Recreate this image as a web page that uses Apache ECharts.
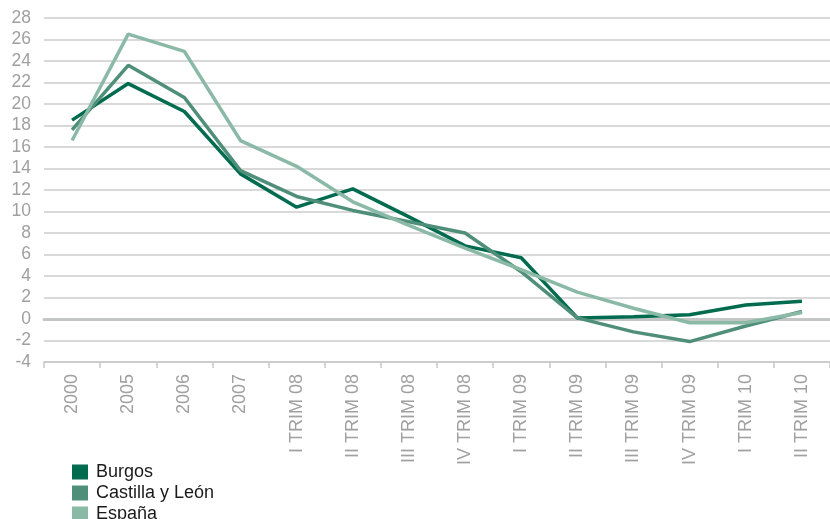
<!DOCTYPE html>
<html>
<head>
<meta charset="utf-8">
<script src="https://cdn.jsdelivr.net/npm/echarts@6/dist/echarts.min.js"></script>
<style>
  html, body { margin: 0; padding: 0; background: #fff; }
  #chart { width: 830px; height: 519px; }
</style>
</head>
<body>
<div id="chart"></div>
<script>
var periodos = ['2000', '2005', '2006', '2007', 'I TRIM 08', 'II TRIM 08', 'III TRIM 08', 'IV TRIM 08',
    'I TRIM 09', 'II TRIM 09', 'III TRIM 09', 'IV TRIM 09', 'I TRIM 10', 'II TRIM 10']
var burgos = [18.5, 21.9, 19.3, 13.5, 10.4, 12.1, 9.5, 6.8, 5.7, 0.1, 0.2, 0.4, 1.3, 1.65]
var castilla = [17.6, 23.6, 20.6, 13.8, 11.4, 10.1, 9.05, 8.0, 4.4, 0.1, -1.2, -2.1, -0.65, 0.7]
var espana = [16.6, 26.5, 24.9, 16.6, 14.2, 10.9, 8.7, 6.6, 4.6, 2.5, 1.0, -0.35, -0.35, 0.6]

var colores = ['#006b4f', '#4f8e78', '#8ab9a6']
var gris = '#a0a0a0'

let myChart = echarts.init(document.getElementById('chart'));

function linea(nombre, datos, color) {
    return {
        name: nombre,
        type: 'line',
        data: datos,
        showSymbol: false,
        symbol: 'none',
        color: color,
        lineStyle: { width: 3.5, color: color },
        z: 3
    }
}

let option = {
    animation: false,
    grid: { left: 44, top: 18, width: 793, height: 344 },
    legend: {
        orient: 'vertical',
        left: 72,
        top: 463,
        height: 90,
        padding: 0,
        icon: 'rect',
        itemWidth: 16,
        itemHeight: 15,
        itemGap: 3,
        textStyle: { fontFamily: 'Liberation Sans', fontSize: 18, color: '#1a1a1a', padding: [0, 0, 0, 3] },
        data: ['Burgos', 'Castilla y León', 'España']
    },
    xAxis: [{
        type: 'category',
        data: periodos,
        boundaryGap: true,
        axisLine: { onZero: false, lineStyle: { color: '#c8c8c8', width: 1.5 } },
        axisTick: { show: true, length: 6, lineStyle: { color: '#c8c8c8', width: 1.5 } },
        axisLabel: {
            rotate: 90,
            margin: 12,
            interval: 0,
            color: gris,
            fontFamily: 'Liberation Sans',
            fontSize: 18
        },
        splitLine: { show: false }
    }, {
        type: 'category',
        data: periodos,
        position: 'bottom',
        axisLine: { onZero: true, lineStyle: { color: '#c3c6c4', width: 3 } },
        axisTick: { show: false },
        axisLabel: { show: false },
        splitLine: { show: false }
    }],
    yAxis: {
        type: 'value',
        min: -4,
        max: 28,
        interval: 2,
        axisLine: { show: false },
        axisTick: { show: false },
        axisLabel: {
            margin: 13,
            color: gris,
            fontFamily: 'Liberation Sans',
            fontSize: 17.5
        },
        splitLine: { lineStyle: { color: '#cccccc', width: 1.5 } }
    },
    series: [
        linea('Burgos', burgos, colores[0]),
        linea('Castilla y León', castilla, colores[1]),
        linea('España', espana, colores[2])
    ]
};

myChart.setOption(option)
</script>
</body>
</html>
